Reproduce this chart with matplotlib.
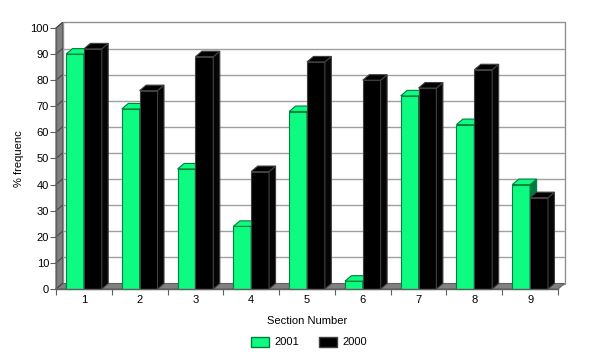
import numpy as np
import matplotlib
matplotlib.use('Agg')
import matplotlib.pyplot as plt
from matplotlib.patches import Polygon, Rectangle, Patch

plt.rcParams['font.family'] = ['Liberation Sans', 'DejaVu Sans']
plt.rcParams['font.size'] = 8

# datos
secciones = ['1', '2', '3', '4', '5', '6', '7', '8', '9']
serie_2001 = [90, 69, 46, 24, 68, 3, 74, 63, 40]
serie_2000 = [92, 76, 89, 45, 87, 80, 77, 84, 35]
yticks = [0, 10, 20, 30, 40, 50, 60, 70, 80, 90, 100]

verde = '#0cfb80'
verde_lado = '#007a42'
verde_borde = '#00803f'

fig = plt.figure(figsize=(6, 3.58), dpi=100)
ax = fig.add_axes([56 / 600, 1 - 289 / 358, 502 / 600, 261 / 358])
n = len(secciones)
ax.set_xlim(0.5, n + 0.5)
ax.set_ylim(0, 100)
for s in ax.spines.values():
    s.set_visible(False)

# profundidad en unidades de datos (aprox 6.5 px x 5.5 px)
dx = 6.5 * n / 502
dy = 5.5 * 100 / 261

# pared del fondo
ax.add_patch(Rectangle((0.5 + dx, dy), n, 100, facecolor='white',
                       edgecolor='#909090', lw=1, clip_on=False, zorder=0))
for t in yticks[1:-1]:
    ax.plot([0.5 + dx, n + 0.5 + dx], [t + dy, t + dy], color='#a0a0a0', lw=1,
            clip_on=False, zorder=0.5)
# pared izquierda
ax.add_patch(Polygon([(0.5, 0), (0.5 + dx, dy), (0.5 + dx, 100 + dy), (0.5, 100)],
                     closed=True, facecolor='#808080', edgecolor='#606060', lw=0.8,
                     clip_on=False, zorder=1))
for t in yticks:
    ax.plot([0.5, 0.5 + dx], [t, t + dy], color='#404040', lw=0.7, clip_on=False, zorder=1.1)
# piso
ax.add_patch(Polygon([(0.5, 0), (n + 0.5, 0), (n + 0.5 + dx, dy), (0.5 + dx, dy)],
                     closed=True, facecolor='#808080', edgecolor='#606060', lw=0.8,
                     clip_on=False, zorder=1))

w = 0.32
x = np.arange(1, n + 1)


def barra3d(xc, h, frente, lado, borde, z):
    x0 = xc - w / 2
    x1 = xc + w / 2
    ax.bar(xc, h, width=w, color=frente, edgecolor=borde, lw=0.8, zorder=z, clip_on=False)
    ax.add_patch(Polygon([(x1, 0), (x1 + dx, dy), (x1 + dx, h + dy), (x1, h)], closed=True,
                         facecolor=lado, edgecolor=borde, lw=0.8, clip_on=False, zorder=z))
    ax.add_patch(Polygon([(x0, h), (x0 + dx, h + dy), (x1 + dx, h + dy), (x1, h)], closed=True,
                         facecolor=frente, edgecolor=borde, lw=0.8, clip_on=False, zorder=z))


for i in range(n):
    barra3d(x[i] - w / 2, serie_2001[i], verde, verde_lado, verde_borde, 2 + i * 2)
    barra3d(x[i] + w / 2, serie_2000[i], 'black', '#050505', '#404040', 3 + i * 2)

# ejes frontales
ax.plot([0.5, n + 0.5], [0, 0], color='#606060', lw=1, clip_on=False, zorder=30)
ax.plot([0.5, 0.5], [0, 100], color='#606060', lw=1, clip_on=False, zorder=30)

ax.set_yticks(yticks)
ax.set_xticks(np.arange(0.5, n + 1.5, 1), minor=False)
ax.set_xticklabels([])
ax.set_xticks(x, minor=True)
ax.set_xticklabels(secciones, minor=True)
ax.tick_params(axis='x', which='major', length=4, color='#606060', direction='out')
ax.tick_params(axis='x', which='minor', length=0, pad=4)
ax.tick_params(axis='y', length=4, color='#606060', pad=1)

ax.set_ylabel('% frequenc', labelpad=5)
ax.set_xlabel('Section Number', labelpad=8)

handles = [Patch(facecolor=verde, edgecolor=verde_borde, label='2001'),
           Patch(facecolor='black', edgecolor='#404040', label='2000')]
fig.legend(handles=handles, loc='center', bbox_to_anchor=(0.515, 1 - 342 / 358), ncol=2,
           frameon=False, handlelength=1.6, handleheight=1.0, columnspacing=1.8,
           handletextpad=0.5)

fig.savefig('out.png', dpi=100)
